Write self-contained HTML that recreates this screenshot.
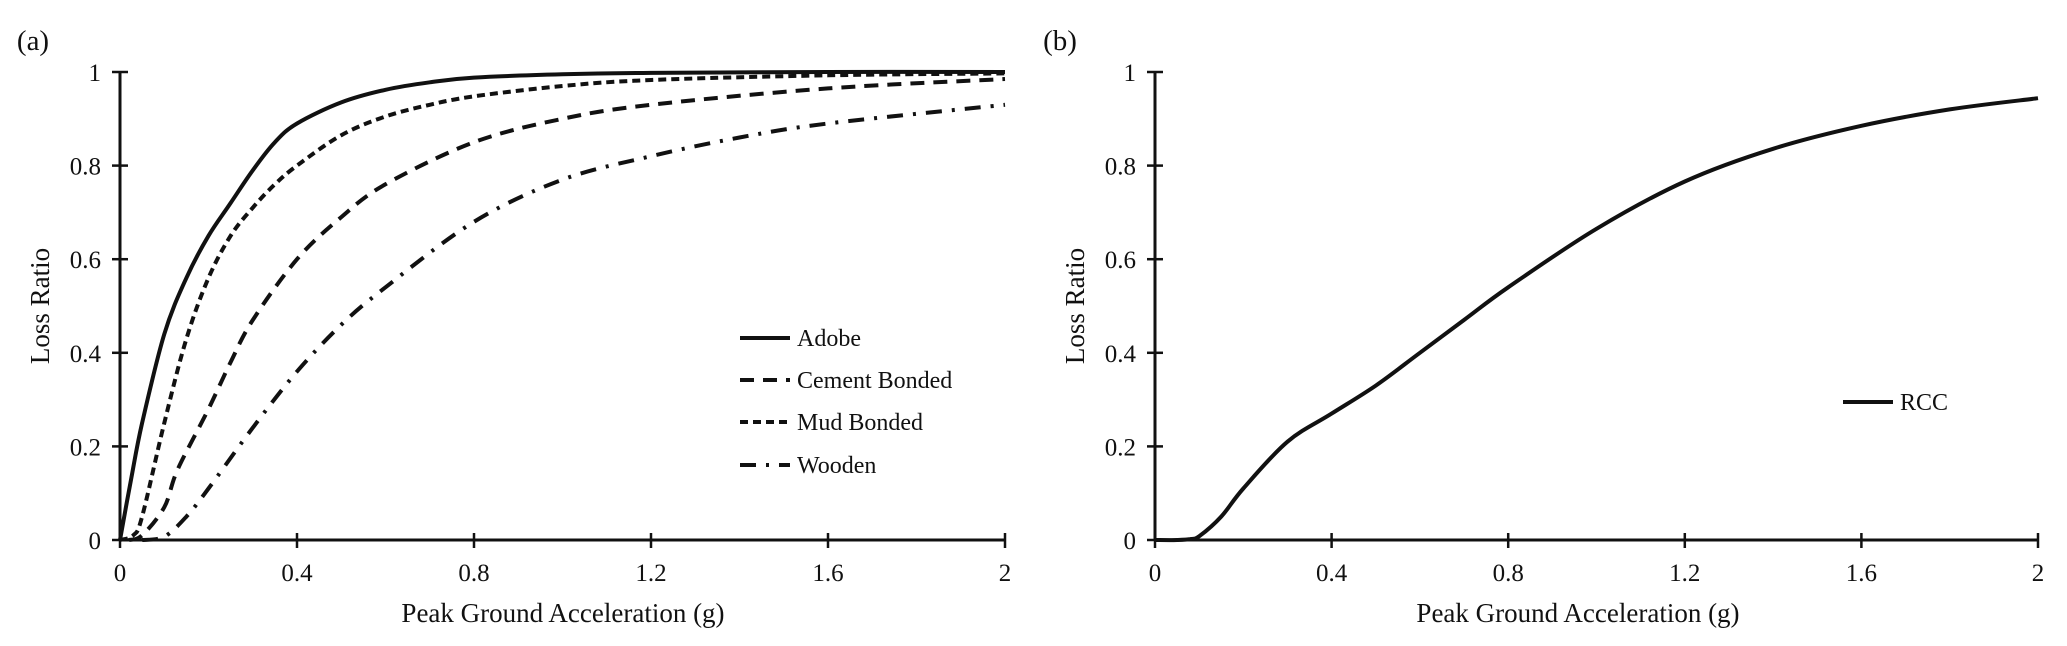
<!DOCTYPE html>
<html><head><meta charset="utf-8"><style>
html,body{margin:0;padding:0;background:#fff}
svg{display:block}
text{font-family:"Liberation Serif",serif;fill:#111}
</style></head><body>
<svg id="chart" width="2067" height="646" viewBox="0 0 2067 646">
<g id="pa"></g>
<g id="pb"></g>
</svg>
<script>
const xTicks = [0, 0.4, 0.8, 1.2, 1.6, 2];
const xTickLabels = ["0", "0.4", "0.8", "1.2", "1.6", "2"];
const yTicks = [0, 0.2, 0.4, 0.6, 0.8, 1];
const yTickLabels = ["0", "0.2", "0.4", "0.6", "0.8", "1"];

const adobeX = [0,0.025,0.05,0.1,0.15,0.2,0.25,0.3,0.35,0.4,0.5,0.6,0.7,0.8,1.0,1.2,1.6,2];
const adobeY = [0,0.13,0.25,0.44,0.56,0.65,0.72,0.79,0.85,0.89,0.935,0.962,0.978,0.988,0.995,0.998,1,1];
const mudX = [0,0.03,0.05,0.1,0.15,0.2,0.25,0.3,0.35,0.4,0.5,0.6,0.7,0.8,1.0,1.2,1.6,2];
const mudY = [0,0.01,0.05,0.25,0.43,0.56,0.65,0.71,0.76,0.8,0.865,0.905,0.93,0.948,0.97,0.983,0.993,0.997];
const cementX = [0.02,0.05,0.1,0.13,0.2,0.25,0.3,0.4,0.5,0.6,0.8,1.0,1.2,1.6,2];
const cementY = [0,0.01,0.07,0.15,0.28,0.38,0.47,0.6,0.69,0.76,0.85,0.9,0.93,0.965,0.985];
const woodenX = [0.05,0.1,0.15,0.2,0.3,0.4,0.5,0.6,0.8,1.0,1.2,1.4,1.6,2];
const woodenY = [0,0.007,0.05,0.11,0.24,0.36,0.46,0.54,0.68,0.77,0.82,0.86,0.89,0.93];
const rccX = [0,0.05,0.08,0.1,0.15,0.2,0.3,0.4,0.5,0.6,0.7,0.8,1.0,1.2,1.4,1.6,1.8,2];
const rccY = [0,0,0.002,0.008,0.05,0.11,0.21,0.27,0.33,0.4,0.47,0.54,0.665,0.766,0.836,0.885,0.92,0.944];

const NS = "http://www.w3.org/2000/svg";
function mk(parent, tag, attrs, txt){
  const e = document.createElementNS(NS, tag);
  for (const k in attrs) e.setAttribute(k, attrs[k]);
  if (txt !== undefined) e.textContent = txt;
  parent.appendChild(e);
  return e;
}
function makeAxes(x0, x1, y0, y1){
  const sx = v => x0 + (v/2)*(x1-x0);
  const sy = v => y0 - v*(y0-y1);
  return {sx, sy};
}
function drawFrame(g, ax, x0, x1, y0, y1, label, labelX, titleCx){
  let a = mk(g,"line",{x1:x0,y1:y0,x2:x0,y2:y1,stroke:"#111","stroke-width":3});
  
  
  a = mk(g,"line",{x1:x0,y1:y0,x2:x1,y2:y0,stroke:"#111","stroke-width":3});
  
  
  xTicks.forEach((v,i)=>{
    const x = ax.sx(v);
    const t = mk(g,"line",{x1:x,y1:y0-7,x2:x,y2:y0+8,stroke:"#111","stroke-width":2.5});
    
    
    const l = mk(g,"text",{x:x,y:y0+41,"text-anchor":"middle","font-size":25},xTickLabels[i]);
    
    
  });
  yTicks.forEach((v,i)=>{
    const y = ax.sy(v);
    const t = mk(g,"line",{x1:x0-8,y1:y,x2:x0+8,y2:y,stroke:"#111","stroke-width":2.5});
    
    
    const l = mk(g,"text",{x:x0-19,y:y+9,"text-anchor":"end","font-size":25},yTickLabels[i]);
    
    
  });
  let t = mk(g,"text",{x:titleCx,y:622,"text-anchor":"middle","font-size":27},"Peak Ground Acceleration (g)");
  
  
  t = mk(g,"text",{x:0,y:0,"text-anchor":"middle","font-size":27,transform:"translate("+(x0-71)+",306) rotate(-90)"},"Loss Ratio");
  
  
  t = mk(g,"text",{x:labelX,y:50,"text-anchor":"middle","font-size":29},label);
  
  
}
function curve(g, ax, xs, ys, dash, name){
  const P = xs.map((v,i)=>[ax.sx(v), ax.sy(ys[i])]);
  let d = "M"+P[0][0].toFixed(1)+","+P[0][1].toFixed(1);
  for (let i=0;i<P.length-1;i++){
    const p0=P[Math.max(0,i-1)], p1=P[i], p2=P[i+1], p3=P[Math.min(P.length-1,i+2)];
    const c1=[p1[0]+(p2[0]-p0[0])/6, p1[1]+(p2[1]-p0[1])/6];
    const c2=[p2[0]-(p3[0]-p1[0])/6, p2[1]-(p3[1]-p1[1])/6];
    d += " C"+c1.map(n=>n.toFixed(1)).join(",")+" "+c2.map(n=>n.toFixed(1)).join(",")+" "+p2.map(n=>n.toFixed(1)).join(",");
  }
  const p = mk(g,"path",{d:d,fill:"none",stroke:"#111","stroke-width":4,"stroke-dasharray":dash,"stroke-linejoin":"round"});
  
  
}
function legend(g, x, y, dash, label, name){
  const grp = mk(g,"g",{});
  
  
  mk(grp,"line",{x1:x,y1:y,x2:x+50,y2:y,stroke:"#111","stroke-width":4,"stroke-dasharray":dash});
  mk(grp,"text",{x:x+57,y:y+8,"font-size":24},label);
}
const DASH_LONG="14,9", DASH_SHORT="8,5", DASH_DOT="16,10,3,10";
const pa = document.getElementById("pa");
const axA = makeAxes(120,1005,540,72);
drawFrame(pa,axA,120,1005,540,72,"(a)",33,563);
curve(pa,axA,woodenX,woodenY,DASH_DOT,"series-wooden");
curve(pa,axA,cementX,cementY,DASH_LONG,"series-cement-bonded");
curve(pa,axA,mudX,mudY,DASH_SHORT,"series-mud-bonded");
curve(pa,axA,adobeX,adobeY,"none","series-adobe");
legend(pa,740,338,"none","Adobe","legend-entry-adobe");
legend(pa,740,380,DASH_LONG,"Cement Bonded","legend-entry-cement-bonded");
legend(pa,740,422,DASH_SHORT,"Mud Bonded","legend-entry-mud-bonded");
legend(pa,740,465,DASH_DOT,"Wooden","legend-entry-wooden");
const pb = document.getElementById("pb");
const axB = makeAxes(1155,2038,540,72);
drawFrame(pb,axB,1155,2038,540,72,"(b)",1060,1578);
curve(pb,axB,rccX,rccY,"none","series-rcc");
legend(pb,1843,402,"none","RCC","legend-entry-rcc");
</script>
</body></html>
